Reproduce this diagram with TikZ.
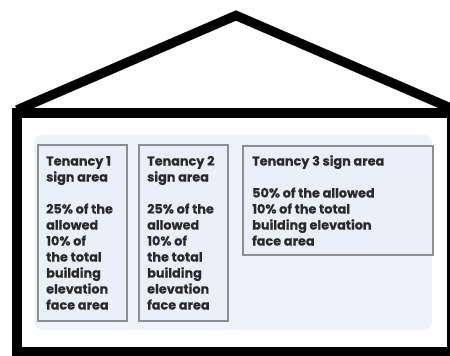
\documentclass[tikz,border=0pt]{standalone}
\usepackage{fontspec}
\setmainfont{Poppins}
\newfontfamily\signfont{Poppins}[FakeBold=0.35]
\definecolor{panelblue}{HTML}{EEF3FB}
\definecolor{boxblue}{HTML}{EAF0F9}
\definecolor{boxgray}{HTML}{8E8E8E}
\definecolor{textgray}{HTML}{2A2A2A}
\begin{document}
\begin{tikzpicture}[x=1pt,y=-1pt,
  wall/.style={line width=9.5pt, draw=black, miter limit=10},
  panel/.style={fill=panelblue, draw=none, rounded corners=9pt},
  signbox/.style={draw=boxgray, line width=1.8pt, fill=boxblue},
  signtext/.style={anchor=base west, align=left, inner sep=0pt,
    font=\signfont\bfseries\fontsize{12.8}{16}\selectfont, text=textgray}]
\useasboundingbox (0,0) rectangle (450,356);
\fill[white] (0,0) rectangle (450,356);
% roof and walls
\draw[wall] (17,110) -- (236,15.5) -- (455,110);
\draw[wall] (17,113) rectangle (451.7,351.5);
% light panel
\fill[panel] (34,134.5) rectangle (432,330);
% sign boxes
\draw[signbox] (38,145) rectangle (127,321);
\draw[signbox] (139,145) rectangle (228,321);
\draw[signbox] (243,146) rectangle (433,255);
% texts (base anchor = baseline of the last line)
\node[signtext] (t1) at (46,309.5) {Tenancy 1\\sign area\\[16pt]25\% of the\\allowed\\10\% of\\the total\\building\\elevation\\face area};
\node[signtext] (t2) at (147,309.5) {Tenancy 2\\sign area\\[16pt]25\% of the\\allowed\\10\% of\\the total\\building\\elevation\\face area};
\node[signtext] (t3) at (252,245.5) {Tenancy 3 sign area\\[16pt]50\% of the allowed\\10\% of the total\\building elevation\\face area};
\end{tikzpicture}
\end{document}
